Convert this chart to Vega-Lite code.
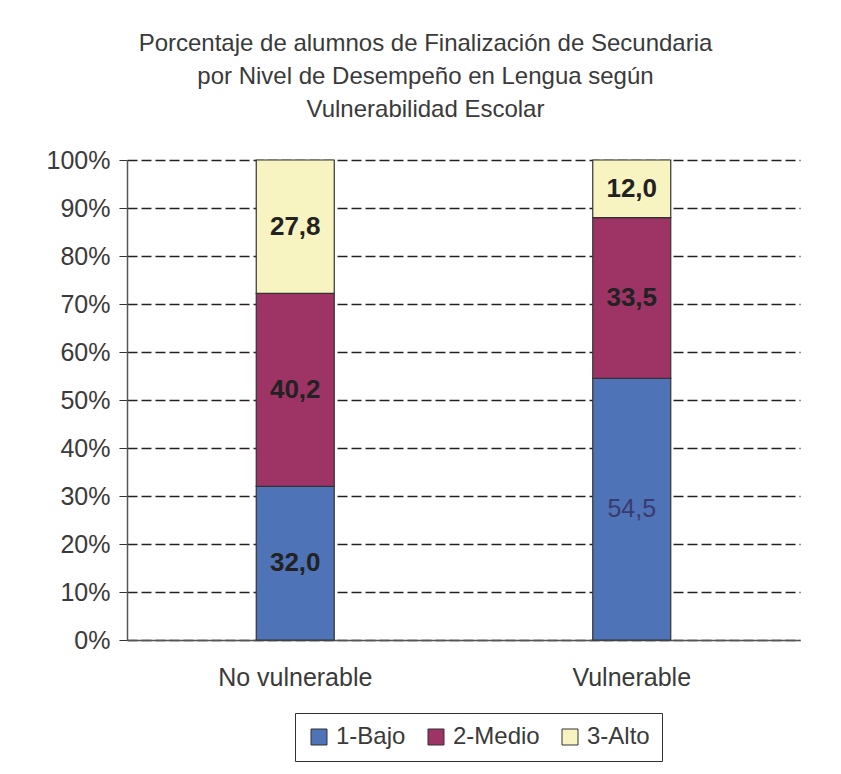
{
  "$schema": "https://vega.github.io/schema/vega-lite/v6.json",
  "width": 673,
  "height": 480,
  "autosize": {"type": "none"},
  "padding": {"left": 127, "top": 160, "right": 41, "bottom": 134},
  "background": "white",
  "title": {
    "text": ["Porcentaje de alumnos de Finalización de Secundaria", "por Nivel de Desempeño en Lengua según", "Vulnerabilidad Escolar"],
    "anchor": "middle",
    "frame": "group",
    "dx": -38,
    "offset": 26,
    "font": "Liberation Sans",
    "fontSize": 24,
    "fontWeight": "normal",
    "color": "#3a3a3a",
    "lineHeight": 33
  },
  "data": {
    "values": [
      {"grupo": "No vulnerable", "nivel": "1-Bajo", "orden": 1, "valor": 32.0, "etiqueta": "32,0", "negrita": true},
      {"grupo": "No vulnerable", "nivel": "2-Medio", "orden": 2, "valor": 40.2, "etiqueta": "40,2", "negrita": true},
      {"grupo": "No vulnerable", "nivel": "3-Alto", "orden": 3, "valor": 27.8, "etiqueta": "27,8", "negrita": true},
      {"grupo": "Vulnerable", "nivel": "1-Bajo", "orden": 1, "valor": 54.5, "etiqueta": "54,5", "negrita": false},
      {"grupo": "Vulnerable", "nivel": "2-Medio", "orden": 2, "valor": 33.5, "etiqueta": "33,5", "negrita": true},
      {"grupo": "Vulnerable", "nivel": "3-Alto", "orden": 3, "valor": 12.0, "etiqueta": "12,0", "negrita": true}
    ]
  },
  "transform": [
    {"stack": "valor", "groupby": ["grupo"], "sort": [{"field": "orden", "order": "ascending"}], "as": ["y0", "y1"]},
    {"calculate": "(datum.y0 + datum.y1) / 2", "as": "ymid"}
  ],
  "encoding": {
    "x": {
      "field": "grupo",
      "type": "nominal",
      "title": null,
      "scale": {"paddingInner": 0, "paddingOuter": 0},
      "axis": {
        "labelAngle": 0,
        "labelFont": "Liberation Sans",
        "labelFontSize": 25,
        "labelColor": "#3a3a3a",
        "labelPadding": 25,
        "ticks": false,
        "domainColor": "#555555",
        "domainWidth": 1.5
      }
    }
  },
  "layer": [
    {
      "mark": {"type": "bar", "size": 78, "stroke": "#333333", "strokeWidth": 1.2},
      "encoding": {
        "y": {
          "field": "y0",
          "type": "quantitative",
          "scale": {"domain": [0, 100]},
          "title": null,
          "axis": {
            "values": [0, 10, 20, 30, 40, 50, 60, 70, 80, 90, 100],
            "labelExpr": "datum.value + '%'",
            "labelFont": "Liberation Sans",
            "labelFontSize": 25,
            "labelColor": "#3a3a3a",
            "labelPadding": 9,
            "tickSize": 8,
            "tickColor": "#333333",
            "domainColor": "#555555",
            "domainWidth": 1.5,
            "grid": true,
            "gridColor": "#222222",
            "gridWidth": 1.5,
            "gridDash": [10, 4]
          }
        },
        "y2": {"field": "y1"},
        "color": {
          "field": "nivel",
          "type": "nominal",
          "scale": {"domain": ["1-Bajo", "2-Medio", "3-Alto"], "range": ["#4E73B6", "#9E3466", "#F8F4C2"]},
          "legend": {
            "title": null,
            "orient": "none",
            "direction": "horizontal",
            "legendX": 168,
            "legendY": 553,
            "strokeColor": "#333333",
            "padding": 12,
            "symbolType": "square",
            "symbolSize": 256,
            "symbolStrokeColor": "#333333",
            "symbolStrokeWidth": 1,
            "symbolOpacity": 1,
            "labelFont": "Liberation Sans",
            "labelFontSize": 24,
            "labelColor": "#3a3a3a",
            "columnPadding": 18,
            "labelOffset": 5
          }
        },
        "order": {"field": "orden", "type": "quantitative"}
      }
    },
    {
      "transform": [{"filter": "datum.negrita"}],
      "mark": {"type": "text", "font": "Liberation Sans", "fontSize": 26, "fontWeight": "bold", "color": "#222222"},
      "encoding": {
        "y": {"field": "ymid", "type": "quantitative"},
        "text": {"field": "etiqueta", "type": "nominal"}
      }
    },
    {
      "transform": [{"filter": "!datum.negrita"}],
      "mark": {"type": "text", "font": "Liberation Sans", "fontSize": 25, "fontWeight": "normal", "color": "#3A3A70"},
      "encoding": {
        "y": {"field": "ymid", "type": "quantitative"},
        "text": {"field": "etiqueta", "type": "nominal"}
      }
    }
  ],
  "config": {
    "view": {"stroke": null}
  }
}
